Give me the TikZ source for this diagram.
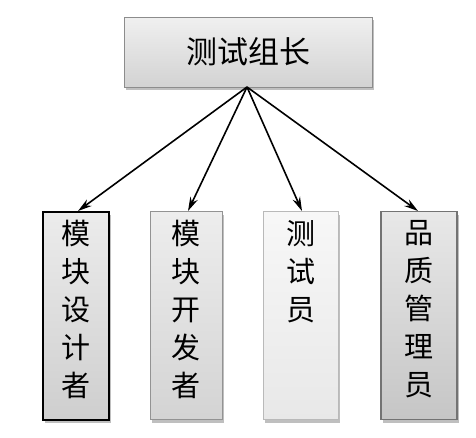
\documentclass[tikz,border=0pt]{standalone}
\usepackage{fontspec}
\newfontfamily\cjk{Noto Sans CJK SC}
\usetikzlibrary{arrows.meta,shadows}
\begin{document}
\begin{tikzpicture}[x=1pt,y=-1pt,
  boxbase/.style={rectangle,inner sep=0pt,
    drop shadow={shadow xshift=1.5pt,shadow yshift=-3pt,fill=black,opacity=0.25}},
  topbox/.style={boxbase,draw=gray!90,line width=1pt,minimum width=248pt,minimum height=70pt,
    top color=gray!12,bottom color=gray!35,font=\cjk\fontsize{31}{34}\selectfont},
  colbox/.style={boxbase,minimum height=208pt,anchor=north},
  coltext/.style={inner sep=0pt,anchor=north,align=center,font=\cjk\fontsize{29}{38}\selectfont},
  conn/.style={line width=1.6pt,-{Stealth[length=14pt,width=8pt]}}
]
\useasboundingbox (0,0) rectangle (476,437);
\node[topbox] (lead) at (248,52) {测试组长};
\node[colbox,draw=black,line width=1.6pt,minimum width=66pt,top color=gray!15,bottom color=gray!38] (b1) at (76,211) {};
\node[colbox,draw=gray!85,line width=1pt,minimum width=72pt,top color=gray!14,bottom color=gray!34] (b2) at (186,211) {};
\node[colbox,draw=gray!55,line width=1pt,minimum width=75pt,top color=gray!6,bottom color=gray!18] (b3) at (300.5,211) {};
\node[colbox,draw=gray!110,line width=1.2pt,minimum width=76pt,top color=gray!18,bottom color=gray!45] (b4) at (419,211) {};
\node[coltext] (t1) at ([yshift=-9pt]b1.north) {模\\块\\设\\计\\者};
\node[coltext] (t2) at ([yshift=-9pt]b2.north) {模\\块\\开\\发\\者};
\node[coltext] (t3) at ([yshift=-9pt]b3.north) {测\\试\\员};
\node[coltext] (t4) at ([yshift=-9pt]b4.north) {品\\质\\管\\理\\员};
\coordinate (src) at (247,87);
\draw[conn] (src) -- ([xshift=2pt]b1.north);
\draw[conn] (src) -- ([xshift=2pt]b2.north);
\draw[conn] (src) -- ([xshift=1.5pt]b3.north);
\draw[conn] (src) -- ([xshift=-1pt]b4.north);
\end{tikzpicture}
\end{document}
